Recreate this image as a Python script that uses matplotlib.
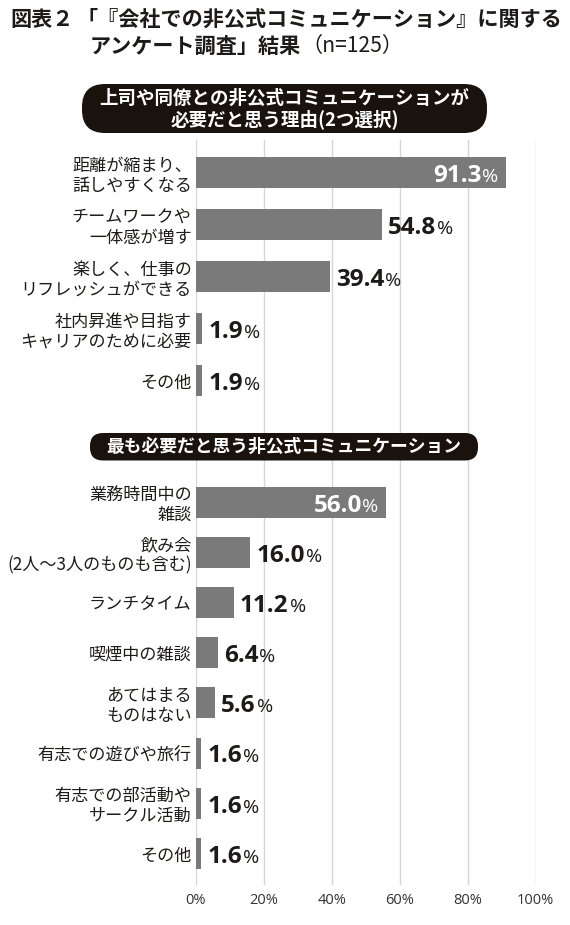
import matplotlib
matplotlib.use("Agg")
import matplotlib.pyplot as plt
from matplotlib.patches import FancyBboxPatch

plt.rcParams['font.family'] = ['Noto Sans CJK JP', 'DejaVu Sans']

# ----------------- data -----------------
reasons = ["距離が縮まり、\n話しやすくなる", "チームワークや\n一体感が増す",
           "楽しく、仕事の\nリフレッシュができる", "社内昇進や目指す\nキャリアのために必要",
           "その他"]
reason_vals = [91.3, 54.8, 39.4, 1.9, 1.9]

most = ["業務時間中の\n雑談", "飲み会\n(2人～3人のものも含む)", "ランチタイム",
        "喫煙中の雑談", "あてはまる\nものはない", "有志での遊びや旅行",
        "有志での部活動や\nサークル活動", "その他"]
most_vals = [56.0, 16.0, 11.2, 6.4, 5.6, 1.6, 1.6, 1.6]

xticks = [0, 20, 40, 60, 80, 100]
title1a = "図表２"
title1b = "「『会社での非公式コミュニケーション』に関する"
title2a = "アンケート調査」結果"
title2b = "（n=125）"
head1 = "上司や同僚との非公式コミュニケーションが\n必要だと思う理由(2つ選択)"
head2 = "最も必要だと思う非公式コミュニケーション"
# -----------------------------------------

W, H = 570, 925
BAR = "#7a7a7a"
INK = "#1e1a17"
PILL = "#1a120c"

fig = plt.figure(figsize=(W / 100, H / 100), dpi=100)
fig.patch.set_facecolor("white")

# main axes, y data in pixel rows from the top
top_px, bot_px = 140, 885
x0_px, x1_px = 196, 535.5
ax = fig.add_axes([x0_px / W, 1 - bot_px / H, (x1_px - x0_px) / W, (bot_px - top_px) / H])
ax.set_xlim(0, 100)
ax.set_ylim(bot_px, top_px)

y1 = [172.5 + 52 * i for i in range(len(reasons))]
y2 = [502 + 50.2 * i for i in range(len(most))]
ys = y1 + y2
vals = reason_vals + most_vals
labels = reasons + most

ax.barh(ys, vals, height=31, color=BAR, zorder=2)

ax.set_xticks(xticks)
ax.set_xticklabels([f"{v}%" for v in xticks], family=["Open Sans", "DejaVu Sans"],
                   fontsize=10.5, color="#333333")
ax.set_yticks(ys)
ax.set_yticklabels(labels, fontsize=12.3, color=INK, linespacing=1.15)
ax.tick_params(axis="y", length=0, pad=3)
ax.tick_params(axis="x", length=0, pad=6)
ax.grid(axis="x", color="#d6d6d6", lw=1)
ax.set_axisbelow(True)
for s in ax.spines.values():
    s.set_visible(False)

r = fig.canvas.get_renderer()
numfont = ["Open Sans", "DejaVu Sans"]


def px_w(t):
    bb = t.get_window_extent(r)
    return bb.width


def to_x(px):
    return (px - x0_px) * 100 / (x1_px - x0_px)


for y, v in zip(ys, vals):
    xv = x0_px + v * (x1_px - x0_px) / 100
    base = y + 9.5
    num = f"{v:.1f}"
    if v > 55:
        pc = ax.text(to_x(xv - 8), base, "%", fontsize=14, color="white", family=numfont,
                     ha="right", va="baseline", zorder=3)
        wpc = px_w(pc)
        ax.text(to_x(xv - 8 - wpc), base, num, fontsize=17.5, weight="bold", color="white",
                family=numfont, ha="right", va="baseline", zorder=3)
    else:
        tn = ax.text(to_x(xv + 6), base, num, fontsize=17.5, weight="bold", color=INK,
                     family=numfont, ha="left", va="baseline", zorder=3)
        wn = px_w(tn)
        ax.text(to_x(xv + 6 + wn + 1), base, "%", fontsize=14, color=INK, family=numfont,
                ha="left", va="baseline", zorder=3)

# overlay in pixel coordinates for title and headers
ov = fig.add_axes([0, 0, 1, 1], zorder=5)
ov.set_xlim(0, W)
ov.set_ylim(H, 0)
ov.axis("off")
ov.patch.set_alpha(0)

ov.text(10, 19, title1a, fontsize=15.2, weight="bold", color=INK, ha="left", va="center")
ov.text(77, 19, title1b, fontsize=15.2, weight="bold", color=INK, ha="left", va="center")
t2 = ov.text(90, 46, title2a, fontsize=15.2, weight="bold", color=INK, ha="left", va="center")
w2 = px_w(t2)
ov.text(90 + w2, 46, title2b, fontsize=15.2, color=INK, ha="left", va="center")

p1 = FancyBboxPatch((82, 84), 405, 49, boxstyle="round,pad=0,rounding_size=23",
                    fc=PILL, ec="none")
ov.add_patch(p1)
ov.text(284.5, 109, head1, fontsize=13.3, weight="bold", color="white",
        ha="center", va="center", linespacing=1.05)

p2 = FancyBboxPatch((90, 433), 388, 27.5, boxstyle="round,pad=0,rounding_size=13",
                    fc=PILL, ec="none")
ov.add_patch(p2)
ov.text(284, 446.5, head2, fontsize=12.8, weight="bold", color="white",
        ha="center", va="center")

fig.savefig("out.png", dpi=100, facecolor="white")
